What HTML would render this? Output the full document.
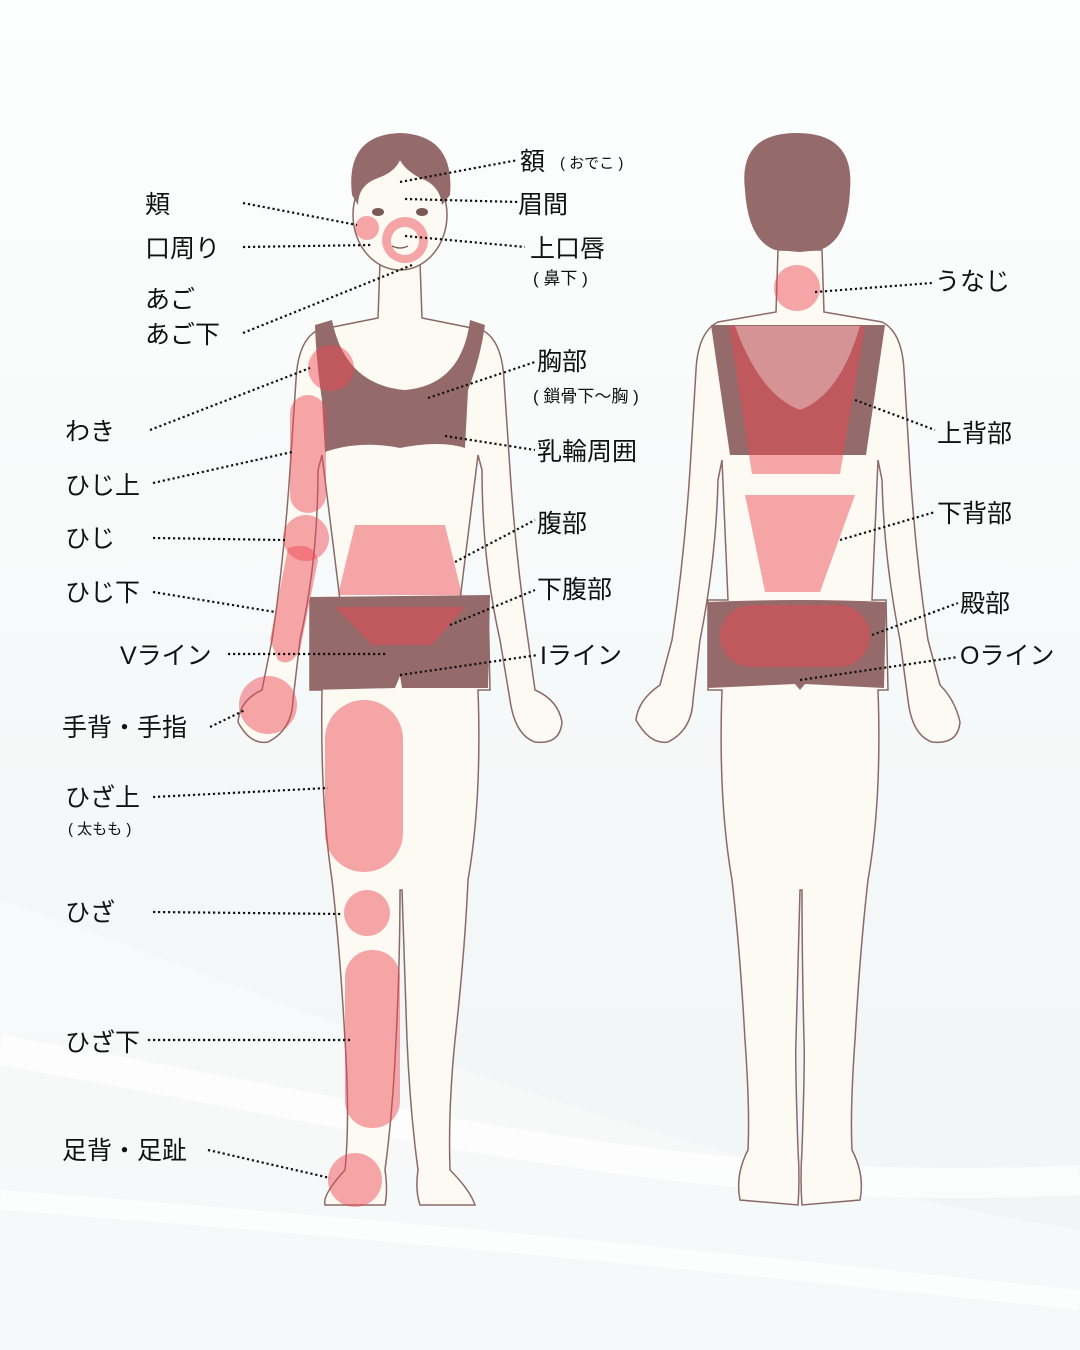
<!DOCTYPE html>
<html><head><meta charset="utf-8"><style>
html,body{margin:0;padding:0;width:1080px;height:1350px;overflow:hidden;background:#f8fafa}
svg text{font-family:"Liberation Sans","Noto Sans CJK JP",sans-serif;fill:#111}
</style></head><body>
<svg width="1080" height="1350" viewBox="0 0 1080 1350" xmlns="http://www.w3.org/2000/svg">
<defs>
<linearGradient id="bg" x1="0" y1="0" x2="0" y2="1">
<stop offset="0" stop-color="#fdfefe"/><stop offset="0.6" stop-color="#f5f8f8"/><stop offset="1" stop-color="#f0f4f4"/></linearGradient>
</defs>
<rect width="1080" height="1350" fill="url(#bg)"/>
<path d="M0 900 C300 1000 600 1150 1080 1230 L1080 1350 L0 1350 Z" fill="#f8fafa" opacity="0.8"/>
<path d="M0 1050 C400 1120 700 1200 1080 1180" stroke="#fff" stroke-width="30" fill="none" opacity="0.7"/>
<path d="M0 1200 C400 1230 700 1260 1080 1300" stroke="#fff" stroke-width="20" fill="none" opacity="0.7"/>

<g stroke="#8a6a66" stroke-width="1.5" fill="#fdfaf4">
<path d="M380 262 L378 318 L318 330 Q298 340 296 380 L290 470 Q284 560 272 640 L262 690 Q240 700 238 722 Q250 745 268 742 Q292 730 293 700 L300 640 Q318 560 318 470 L322 455 L340 600 L310 600 L310 690 L322 690 Q320 800 332 880 Q340 950 345 1040 Q350 1120 345 1170 Q322 1195 325 1205 L385 1205 Q388 1190 385 1170 Q393 1110 396 1040 Q400 960 400 890 L402 890 Q404 960 407 1040 Q410 1110 418 1170 Q415 1190 420 1205 L475 1205 Q470 1190 450 1170 Q448 1110 455 1040 Q465 950 468 880 Q482 800 478 690 L490 690 L488 600 L460 600 L478 455 L482 470 Q482 560 500 640 L510 700 Q515 735 535 742 Q560 745 562 722 Q558 700 535 690 L528 640 Q516 560 510 470 L504 380 Q502 340 482 330 L422 318 L420 262 Z"/>
<ellipse cx="400" cy="215" rx="47" ry="55"/>
<path d="M778 250 L776 312 L718 322 Q698 332 696 370 L690 470 Q684 560 672 640 L660 685 Q638 700 636 720 Q650 745 668 742 Q692 730 693 700 L700 640 Q716 560 718 480 L722 460 L728 600 L708 600 L708 690 L722 690 Q718 800 732 880 Q740 950 745 1040 Q750 1110 748 1150 Q735 1175 740 1200 L798 1205 Q800 1180 798 1150 Q795 1060 796 1040 Q798 960 800 890 L802 890 Q802 960 804 1040 Q805 1060 802 1150 Q800 1180 802 1205 L860 1200 Q865 1175 852 1150 Q850 1110 855 1040 Q860 950 868 880 Q882 800 878 690 L888 690 L886 600 L872 600 L878 460 L882 480 Q884 560 900 640 L908 700 Q912 735 932 742 Q958 745 960 722 Q955 700 940 685 L928 640 Q916 560 910 470 L904 370 Q902 332 882 322 L824 312 L822 250 Z"/>
</g>
<path d="M352 195 Q345 135 400 133 Q455 135 450 195 L442 205 Q440 185 420 178 Q405 170 400 160 Q395 172 378 178 Q358 185 358 205 Z" fill="#956a6a"/>
<g fill="#7a5a56"><ellipse cx="378" cy="212" rx="6" ry="4"/><ellipse cx="422" cy="212" rx="6" ry="4"/></g>
<path d="M392 246 Q400 250 408 246" stroke="#7a5a56" stroke-width="1.3" fill="none"/>
<path d="M745 190 Q738 133 797 133 Q855 133 850 190 Q848 240 820 250 L800 252 L775 250 Q748 240 745 190 Z" fill="#956a6a"/>

<g fill="#956a6a">
<path d="M315 325 L332 320 Q345 385 405 390 Q462 385 470 320 L485 325 Q480 360 468 390 L465 448 Q440 440 400 448 Q360 440 325 452 L322 400 Q316 360 315 325 Z"/>
<path d="M310 597 L490 595 L488 688 L402 688 L400 676 L395 688 L310 690 Z"/>
</g>
<g fill="#956a6a">
<path d="M711 325 L885 325 L866 455 L730 455 Z"/>
<path d="M708 602 Q800 598 886 602 L884 688 L805 684 L800 690 L795 684 L708 688 Z"/>
</g>

<g fill="rgba(238,70,80,0.47)">
<circle cx="367" cy="228" r="12"/>
<path d="M405 217 a23 23 0 1 0 0.1 0 Z M405 227 a14 14 0 1 1 -0.1 0 Z" fill-rule="evenodd"/>
<circle cx="331" cy="368" r="23"/>
<rect x="290" y="395" width="36" height="118" rx="18"/>
<circle cx="306" cy="538" r="23"/>
<path d="M288 548 Q312 540 318 560 L300 650 Q290 668 278 660 L270 640 Z"/>
<circle cx="268" cy="705" r="29"/>
<rect x="325" y="700" width="78" height="172" rx="39"/>
<circle cx="367" cy="913" r="23"/>
<rect x="345" y="950" width="55" height="178" rx="27"/>
<circle cx="355" cy="1180" r="27"/>
<path d="M355 525 L445 525 L462 595 L338 595 Z"/>
<path d="M335 607 L465 607 L432 645 L372 645 Z"/>
<circle cx="797" cy="288" r="23"/>
<path d="M729 326 L865 326 L840 474 L752 474 Z"/>
<path d="M745 495 L855 495 L820 592 L765 592 Z"/>
<rect x="720" y="605" width="150" height="62" rx="31"/>
</g>
<path d="M735 326 Q760 395 800 410 Q840 395 860 326 Z" fill="rgba(255,255,255,0.35)"/>

<g stroke="#111" stroke-width="2.2" stroke-dasharray="2.2 2.8" fill="none">
<path d="M400 182 L518 160"/><path d="M405 199 L518 202"/><path d="M405 236 L525 247"/>
<path d="M243 203 L357 225"/><path d="M243 247 L372 245"/><path d="M243 333 L412 265"/>
<path d="M150 430 L310 368"/><path d="M153 483 L292 452"/><path d="M153 538 L285 540"/>
<path d="M153 592 L275 612"/><path d="M228 654 L388 654"/><path d="M210 727 L245 710"/>
<path d="M153 797 L328 788"/><path d="M153 912 L343 914"/><path d="M148 1040 L350 1040"/>
<path d="M208 1150 L330 1178"/>
<path d="M428 398 L535 362"/><path d="M445 436 L535 450"/><path d="M455 562 L535 520"/>
<path d="M450 625 L535 590"/><path d="M400 675 L538 655"/>
<path d="M815 292 L932 283"/><path d="M855 400 L935 430"/><path d="M840 540 L935 512"/>
<path d="M872 635 L958 603"/><path d="M800 680 L958 657"/>
</g>

<g font-size="25">
<text x="520" y="170">額</text><text x="560" y="168" font-size="15">( おでこ )</text>
<text x="518" y="213">眉間</text>
<text x="530" y="257">上口唇</text><text x="533" y="284" font-size="17">( 鼻下 )</text>
<text x="145" y="213">頬</text>
<text x="145" y="257">口周り</text>
<text x="145" y="308">あご</text><text x="145" y="343">あご下</text>
<text x="65" y="440">わき</text>
<text x="65" y="494">ひじ上</text>
<text x="65" y="547">ひじ</text>
<text x="65" y="601">ひじ下</text>
<text x="120" y="664">Vライン</text>
<text x="62" y="736">手背・手指</text>
<text x="65" y="806">ひざ上</text><text x="68" y="834" font-size="15">( 太もも )</text>
<text x="65" y="921">ひざ</text>
<text x="65" y="1051">ひざ下</text>
<text x="62" y="1159">足背・足趾</text>
<text x="537" y="370">胸部</text><text x="533" y="402" font-size="17">( 鎖骨下～胸 )</text>
<text x="537" y="460">乳輪周囲</text>
<text x="537" y="532">腹部</text>
<text x="537" y="598">下腹部</text>
<text x="540" y="664">Iライン</text>
<text x="935" y="290">うなじ</text>
<text x="937" y="442">上背部</text>
<text x="937" y="522">下背部</text>
<text x="960" y="612">殿部</text>
<text x="960" y="664">Oライン</text>
</g>
</svg>
</body></html>
